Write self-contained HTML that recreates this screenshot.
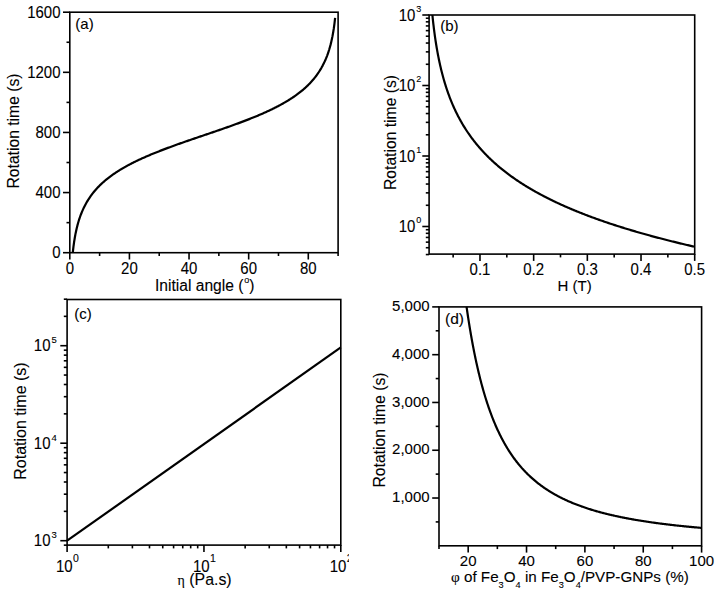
<!DOCTYPE html>
<html><head><meta charset="utf-8"><style>
html,body{margin:0;padding:0;background:#fff;}
body{width:720px;height:592px;overflow:hidden;}
svg{display:block;font-family:"Liberation Sans",sans-serif;}
svg text{fill:#000;stroke:#000;stroke-width:0.1px;}
svg line,svg rect.ax,svg polyline{stroke:#000;}
</style></head><body>
<svg width="720" height="592" viewBox="0 0 720 592">
<rect x="0" y="0" width="720" height="592" fill="#fff" stroke="none"/>
<rect class="ax" x="69.80" y="12.20" width="268.30" height="240.50" fill="none" stroke-width="1.6"/>
<line x1="69.80" y1="252.70" x2="69.80" y2="259.50" stroke-width="1.6"/>
<line x1="99.61" y1="252.70" x2="99.61" y2="256.00" stroke-width="1.6"/>
<line x1="129.42" y1="252.70" x2="129.42" y2="259.50" stroke-width="1.6"/>
<line x1="159.23" y1="252.70" x2="159.23" y2="256.00" stroke-width="1.6"/>
<line x1="189.04" y1="252.70" x2="189.04" y2="259.50" stroke-width="1.6"/>
<line x1="218.86" y1="252.70" x2="218.86" y2="256.00" stroke-width="1.6"/>
<line x1="248.67" y1="252.70" x2="248.67" y2="259.50" stroke-width="1.6"/>
<line x1="278.48" y1="252.70" x2="278.48" y2="256.00" stroke-width="1.6"/>
<line x1="308.29" y1="252.70" x2="308.29" y2="259.50" stroke-width="1.6"/>
<line x1="338.10" y1="252.70" x2="338.10" y2="256.00" stroke-width="1.6"/>
<line x1="69.80" y1="252.70" x2="63.00" y2="252.70" stroke-width="1.6"/>
<line x1="69.80" y1="222.64" x2="66.50" y2="222.64" stroke-width="1.6"/>
<line x1="69.80" y1="192.57" x2="63.00" y2="192.57" stroke-width="1.6"/>
<line x1="69.80" y1="162.51" x2="66.50" y2="162.51" stroke-width="1.6"/>
<line x1="69.80" y1="132.45" x2="63.00" y2="132.45" stroke-width="1.6"/>
<line x1="69.80" y1="102.39" x2="66.50" y2="102.39" stroke-width="1.6"/>
<line x1="69.80" y1="72.32" x2="63.00" y2="72.32" stroke-width="1.6"/>
<line x1="69.80" y1="42.26" x2="66.50" y2="42.26" stroke-width="1.6"/>
<line x1="69.80" y1="12.20" x2="63.00" y2="12.20" stroke-width="1.6"/>
<text transform="translate(69.80,273.80) scale(1.0,1.12)" font-size="15" text-anchor="middle" >0</text>
<text transform="translate(129.42,273.80) scale(1.0,1.12)" font-size="15" text-anchor="middle" >20</text>
<text transform="translate(189.04,273.80) scale(1.0,1.12)" font-size="15" text-anchor="middle" >40</text>
<text transform="translate(248.67,273.80) scale(1.0,1.12)" font-size="15" text-anchor="middle" >60</text>
<text transform="translate(308.29,273.80) scale(1.0,1.12)" font-size="15" text-anchor="middle" >80</text>
<text transform="translate(60.50,258.30) scale(1.0,1.12)" font-size="15" text-anchor="end" >0</text>
<text transform="translate(60.50,198.17) scale(1.0,1.12)" font-size="15" text-anchor="end" >400</text>
<text transform="translate(60.50,138.05) scale(1.0,1.12)" font-size="15" text-anchor="end" >800</text>
<text transform="translate(60.50,77.92) scale(1.0,1.12)" font-size="15" text-anchor="end" >1200</text>
<text transform="translate(60.50,17.80) scale(1.0,1.12)" font-size="15" text-anchor="end" >1600</text>
<polyline points="72.78,252.70 73.44,246.93 74.09,242.12 74.75,237.99 75.40,234.38 76.06,231.17 76.72,228.27 77.37,225.64 78.03,223.23 78.68,221.00 79.34,218.93 80.00,217.00 80.65,215.18 81.31,213.48 81.96,211.86 82.62,210.33 83.27,208.88 83.93,207.50 84.59,206.17 85.24,204.91 85.90,203.69 86.55,202.53 87.21,201.41 87.87,200.33 88.52,199.28 89.18,198.28 89.83,197.30 90.49,196.36 91.14,195.44 91.80,194.56 92.46,193.69 93.11,192.86 93.77,192.04 94.42,191.25 95.08,190.47 95.74,189.72 96.39,188.98 97.05,188.27 97.70,187.56 98.36,186.88 99.01,186.21 99.67,185.55 100.33,184.91 100.98,184.27 101.64,183.66 102.29,183.05 102.95,182.46 103.61,181.87 104.26,181.30 104.92,180.74 105.57,180.19 106.23,179.64 106.89,179.11 107.54,178.58 108.20,178.07 108.85,177.56 109.51,177.06 110.16,176.57 110.82,176.08 111.48,175.60 112.13,175.13 112.79,174.66 113.44,174.21 114.10,173.75 114.76,173.31 115.41,172.87 116.07,172.43 116.72,172.00 117.38,171.58 118.03,171.16 118.69,170.75 119.35,170.34 120.00,169.93 120.66,169.53 121.31,169.14 121.97,168.75 122.63,168.36 123.28,167.98 123.94,167.60 124.59,167.23 125.25,166.86 125.90,166.49 126.56,166.13 127.22,165.77 127.87,165.41 128.53,165.06 129.18,164.71 129.84,164.36 130.50,164.02 131.15,163.68 131.81,163.34 132.46,163.01 133.12,162.68 133.77,162.35 134.43,162.02 135.09,161.70 135.74,161.38 136.40,161.06 137.05,160.75 137.71,160.43 138.37,160.12 139.02,159.81 139.68,159.51 140.33,159.20 140.99,158.90 141.64,158.60 142.30,158.30 142.96,158.01 143.61,157.71 144.27,157.42 144.92,157.13 145.58,156.84 146.24,156.56 146.89,156.27 147.55,155.99 148.20,155.71 148.86,155.43 149.51,155.15 150.17,154.87 150.83,154.60 151.48,154.33 152.14,154.05 152.79,153.78 153.45,153.51 154.11,153.25 154.76,152.98 155.42,152.72 156.07,152.45 156.73,152.19 157.39,151.93 158.04,151.67 158.70,151.41 159.35,151.15 160.01,150.89 160.66,150.64 161.32,150.39 161.98,150.13 162.63,149.88 163.29,149.63 163.94,149.38 164.60,149.13 165.26,148.88 165.91,148.63 166.57,148.39 167.22,148.14 167.88,147.90 168.53,147.65 169.19,147.41 169.85,147.17 170.50,146.93 171.16,146.69 171.81,146.45 172.47,146.21 173.13,145.97 173.78,145.73 174.44,145.49 175.09,145.26 175.75,145.02 176.40,144.79 177.06,144.55 177.72,144.32 178.37,144.08 179.03,143.85 179.68,143.62 180.34,143.39 181.00,143.16 181.65,142.92 182.31,142.69 182.96,142.46 183.62,142.24 184.27,142.01 184.93,141.78 185.59,141.55 186.24,141.32 186.90,141.09 187.55,140.87 188.21,140.64 188.87,140.41 189.52,140.19 190.18,139.96 190.83,139.74 191.49,139.51 192.14,139.29 192.80,139.06 193.46,138.84 194.11,138.61 194.77,138.39 195.42,138.16 196.08,137.94 196.74,137.72 197.39,137.49 198.05,137.27 198.70,137.05 199.36,136.82 200.01,136.60 200.67,136.38 201.33,136.15 201.98,135.93 202.64,135.71 203.29,135.49 203.95,135.26 204.61,135.04 205.26,134.82 205.92,134.59 206.57,134.37 207.23,134.15 207.89,133.93 208.54,133.70 209.20,133.48 209.85,133.26 210.51,133.03 211.16,132.81 211.82,132.59 212.48,132.36 213.13,132.14 213.79,131.91 214.44,131.69 215.10,131.46 215.76,131.24 216.41,131.01 217.07,130.79 217.72,130.56 218.38,130.34 219.03,130.11 219.69,129.89 220.35,129.66 221.00,129.43 221.66,129.20 222.31,128.98 222.97,128.75 223.63,128.52 224.28,128.29 224.94,128.06 225.59,127.83 226.25,127.60 226.90,127.37 227.56,127.14 228.22,126.91 228.87,126.67 229.53,126.44 230.18,126.21 230.84,125.97 231.50,125.74 232.15,125.50 232.81,125.27 233.46,125.03 234.12,124.79 234.77,124.56 235.43,124.32 236.09,124.08 236.74,123.84 237.40,123.60 238.05,123.36 238.71,123.11 239.37,122.87 240.02,122.63 240.68,122.38 241.33,122.14 241.99,121.89 242.64,121.64 243.30,121.40 243.96,121.15 244.61,120.90 245.27,120.65 245.92,120.39 246.58,120.14 247.24,119.89 247.89,119.63 248.55,119.37 249.20,119.12 249.86,118.86 250.51,118.60 251.17,118.34 251.83,118.07 252.48,117.81 253.14,117.55 253.79,117.28 254.45,117.01 255.11,116.74 255.76,116.47 256.42,116.20 257.07,115.93 257.73,115.65 258.39,115.38 259.04,115.10 259.70,114.82 260.35,114.54 261.01,114.25 261.66,113.97 262.32,113.68 262.98,113.39 263.63,113.10 264.29,112.81 264.94,112.52 265.60,112.22 266.26,111.92 266.91,111.62 267.57,111.32 268.22,111.02 268.88,110.71 269.53,110.40 270.19,110.09 270.85,109.78 271.50,109.46 272.16,109.15 272.81,108.83 273.47,108.50 274.13,108.18 274.78,107.85 275.44,107.52 276.09,107.18 276.75,106.85 277.40,106.51 278.06,106.16 278.72,105.82 279.37,105.47 280.03,105.11 280.68,104.76 281.34,104.40 282.00,104.04 282.65,103.67 283.31,103.30 283.96,102.92 284.62,102.55 285.27,102.16 285.93,101.78 286.59,101.39 287.24,100.99 287.90,100.59 288.55,100.19 289.21,99.78 289.87,99.37 290.52,98.95 291.18,98.52 291.83,98.09 292.49,97.66 293.14,97.22 293.80,96.77 294.46,96.32 295.11,95.86 295.77,95.40 296.42,94.92 297.08,94.45 297.74,93.96 298.39,93.47 299.05,92.97 299.70,92.46 300.36,91.94 301.01,91.42 301.67,90.88 302.33,90.34 302.98,89.79 303.64,89.22 304.29,88.65 304.95,88.07 305.61,87.47 306.26,86.87 306.92,86.25 307.57,85.62 308.23,84.98 308.89,84.32 309.54,83.65 310.20,82.96 310.85,82.26 311.51,81.54 312.16,80.81 312.82,80.05 313.48,79.28 314.13,78.48 314.79,77.67 315.44,76.83 316.10,75.97 316.76,75.08 317.41,74.17 318.07,73.22 318.72,72.25 319.38,71.24 320.03,70.20 320.69,69.12 321.35,68.00 322.00,66.83 322.66,65.62 323.31,64.35 323.97,63.03 324.63,61.64 325.28,60.19 325.94,58.66 326.59,57.05 327.25,55.34 327.90,53.53 328.56,51.60 329.22,49.53 329.87,47.30 330.53,44.88 331.18,42.25 331.84,39.36 332.50,36.15 333.15,32.53 333.81,28.41 334.46,23.60 335.12,17.83" fill="none" stroke-width="2.2" stroke-linejoin="round"/>
<text transform="translate(75.30,29.00) scale(1.0,1.0)" font-size="15" text-anchor="start" >(a)</text>
<text transform="translate(155.00,291.20) scale(1.0,1.0)" font-size="15.6" text-anchor="start" >Initial angle (<tspan font-size="9" dy="-8.5" dx="0.8">o</tspan><tspan dy="8.5">)</tspan></text>
<text transform="translate(18.5,131) rotate(-90)" font-size="15.7" text-anchor="middle">Rotation time (s)</text>
<rect class="ax" x="429.10" y="15.00" width="265.60" height="239.10" fill="none" stroke-width="1.6"/>
<line x1="453.14" y1="254.10" x2="453.14" y2="257.40" stroke-width="1.6"/>
<line x1="479.98" y1="254.10" x2="479.98" y2="260.90" stroke-width="1.6"/>
<line x1="506.82" y1="254.10" x2="506.82" y2="257.40" stroke-width="1.6"/>
<line x1="533.66" y1="254.10" x2="533.66" y2="260.90" stroke-width="1.6"/>
<line x1="560.50" y1="254.10" x2="560.50" y2="257.40" stroke-width="1.6"/>
<line x1="587.34" y1="254.10" x2="587.34" y2="260.90" stroke-width="1.6"/>
<line x1="614.18" y1="254.10" x2="614.18" y2="257.40" stroke-width="1.6"/>
<line x1="641.02" y1="254.10" x2="641.02" y2="260.90" stroke-width="1.6"/>
<line x1="667.86" y1="254.10" x2="667.86" y2="257.40" stroke-width="1.6"/>
<line x1="694.70" y1="254.10" x2="694.70" y2="260.90" stroke-width="1.6"/>
<line x1="429.10" y1="254.55" x2="425.80" y2="254.55" stroke-width="1.6"/>
<line x1="429.10" y1="247.72" x2="425.80" y2="247.72" stroke-width="1.6"/>
<line x1="429.10" y1="242.14" x2="425.80" y2="242.14" stroke-width="1.6"/>
<line x1="429.10" y1="237.42" x2="425.80" y2="237.42" stroke-width="1.6"/>
<line x1="429.10" y1="233.33" x2="425.80" y2="233.33" stroke-width="1.6"/>
<line x1="429.10" y1="229.73" x2="425.80" y2="229.73" stroke-width="1.6"/>
<line x1="429.10" y1="226.50" x2="422.30" y2="226.50" stroke-width="1.6"/>
<line x1="429.10" y1="205.28" x2="425.80" y2="205.28" stroke-width="1.6"/>
<line x1="429.10" y1="192.86" x2="425.80" y2="192.86" stroke-width="1.6"/>
<line x1="429.10" y1="184.05" x2="425.80" y2="184.05" stroke-width="1.6"/>
<line x1="429.10" y1="177.22" x2="425.80" y2="177.22" stroke-width="1.6"/>
<line x1="429.10" y1="171.64" x2="425.80" y2="171.64" stroke-width="1.6"/>
<line x1="429.10" y1="166.92" x2="425.80" y2="166.92" stroke-width="1.6"/>
<line x1="429.10" y1="162.83" x2="425.80" y2="162.83" stroke-width="1.6"/>
<line x1="429.10" y1="159.23" x2="425.80" y2="159.23" stroke-width="1.6"/>
<line x1="429.10" y1="156.00" x2="422.30" y2="156.00" stroke-width="1.6"/>
<line x1="429.10" y1="134.78" x2="425.80" y2="134.78" stroke-width="1.6"/>
<line x1="429.10" y1="122.36" x2="425.80" y2="122.36" stroke-width="1.6"/>
<line x1="429.10" y1="113.55" x2="425.80" y2="113.55" stroke-width="1.6"/>
<line x1="429.10" y1="106.72" x2="425.80" y2="106.72" stroke-width="1.6"/>
<line x1="429.10" y1="101.14" x2="425.80" y2="101.14" stroke-width="1.6"/>
<line x1="429.10" y1="96.42" x2="425.80" y2="96.42" stroke-width="1.6"/>
<line x1="429.10" y1="92.33" x2="425.80" y2="92.33" stroke-width="1.6"/>
<line x1="429.10" y1="88.73" x2="425.80" y2="88.73" stroke-width="1.6"/>
<line x1="429.10" y1="85.50" x2="422.30" y2="85.50" stroke-width="1.6"/>
<line x1="429.10" y1="64.28" x2="425.80" y2="64.28" stroke-width="1.6"/>
<line x1="429.10" y1="51.86" x2="425.80" y2="51.86" stroke-width="1.6"/>
<line x1="429.10" y1="43.05" x2="425.80" y2="43.05" stroke-width="1.6"/>
<line x1="429.10" y1="36.22" x2="425.80" y2="36.22" stroke-width="1.6"/>
<line x1="429.10" y1="30.64" x2="425.80" y2="30.64" stroke-width="1.6"/>
<line x1="429.10" y1="25.92" x2="425.80" y2="25.92" stroke-width="1.6"/>
<line x1="429.10" y1="21.83" x2="425.80" y2="21.83" stroke-width="1.6"/>
<line x1="429.10" y1="18.23" x2="425.80" y2="18.23" stroke-width="1.6"/>
<line x1="429.10" y1="15.00" x2="422.30" y2="15.00" stroke-width="1.6"/>
<text transform="translate(479.98,275.10) scale(1.0,1.12)" font-size="15" text-anchor="middle" >0.1</text>
<text transform="translate(533.66,275.10) scale(1.0,1.12)" font-size="15" text-anchor="middle" >0.2</text>
<text transform="translate(587.34,275.10) scale(1.0,1.12)" font-size="15" text-anchor="middle" >0.3</text>
<text transform="translate(641.02,275.10) scale(1.0,1.12)" font-size="15" text-anchor="middle" >0.4</text>
<text transform="translate(694.70,275.10) scale(1.0,1.12)" font-size="15" text-anchor="middle" >0.5</text>
<text transform="translate(415.30,232.10) scale(1.0,1.12)" font-size="15" text-anchor="end" >10</text>
<text transform="translate(416.30,223.00) scale(1.0,1.0)" font-size="9" text-anchor="start" >0</text>
<text transform="translate(415.30,161.60) scale(1.0,1.12)" font-size="15" text-anchor="end" >10</text>
<text transform="translate(416.30,152.50) scale(1.0,1.0)" font-size="9" text-anchor="start" >1</text>
<text transform="translate(415.30,91.10) scale(1.0,1.12)" font-size="15" text-anchor="end" >10</text>
<text transform="translate(416.30,82.00) scale(1.0,1.0)" font-size="9" text-anchor="start" >2</text>
<text transform="translate(415.30,20.60) scale(1.0,1.12)" font-size="15" text-anchor="end" >10</text>
<text transform="translate(416.30,11.50) scale(1.0,1.0)" font-size="9" text-anchor="start" >3</text>
<polyline points="432.40,15.00 432.43,15.33 432.49,15.92 432.57,16.69 432.66,17.58 432.76,18.58 432.88,19.66 433.00,20.81 433.14,22.03 433.28,23.30 433.43,24.62 433.59,25.97 433.76,27.35 433.93,28.77 434.11,30.20 434.30,31.65 434.50,33.11 434.70,34.59 434.90,36.07 435.11,37.56 435.33,39.05 435.55,40.54 435.78,42.03 436.01,43.52 436.25,45.00 436.50,46.48 436.74,47.96 437.00,49.43 437.25,50.88 437.52,52.33 437.78,53.78 438.06,55.21 438.33,56.63 438.61,58.04 438.90,59.44 439.19,60.83 439.48,62.20 439.78,63.57 440.08,64.92 440.38,66.26 440.69,67.59 441.00,68.91 441.32,70.22 441.64,71.51 441.97,72.79 442.29,74.06 442.63,75.32 442.96,76.56 443.30,77.80 443.64,79.02 443.99,80.23 444.34,81.42 444.69,82.61 445.05,83.79 445.41,84.95 445.77,86.10 446.14,87.24 446.51,88.38 446.88,89.49 447.26,90.60 447.64,91.70 448.02,92.79 448.40,93.87 448.79,94.94 449.18,95.99 449.58,97.04 449.98,98.08 450.38,99.11 450.78,100.13 451.19,101.14 451.60,102.14 452.01,103.13 452.43,104.11 452.85,105.09 453.27,106.05 453.69,107.01 454.12,107.96 454.55,108.90 454.98,109.83 455.42,110.75 455.86,111.67 456.30,112.57 456.74,113.47 457.19,114.36 457.64,115.25 458.09,116.13 458.55,117.00 459.00,117.86 459.46,118.71 459.93,119.56 460.39,120.40 460.86,121.24 461.33,122.07 461.80,122.89 462.28,123.70 462.76,124.51 463.24,125.31 463.72,126.11 464.21,126.90 464.69,127.68 465.18,128.46 465.68,129.23 466.17,130.00 466.67,130.76 467.17,131.51 467.67,132.26 468.18,133.00 468.69,133.74 469.20,134.47 469.71,135.20 470.22,135.92 470.74,136.64 471.26,137.35 471.78,138.06 472.31,138.76 472.83,139.45 473.36,140.14 473.89,140.83 474.42,141.51 474.96,142.19 475.50,142.86 476.04,143.53 476.58,144.20 477.12,144.86 477.67,145.51 478.22,146.16 478.77,146.81 479.32,147.45 479.88,148.09 480.44,148.72 481.00,149.35 481.56,149.98 482.12,150.60 482.69,151.22 483.26,151.83 483.83,152.44 484.40,153.05 484.97,153.65 485.55,154.25 486.13,154.84 486.71,155.44 487.29,156.02 487.88,156.61 488.47,157.19 489.05,157.77 489.65,158.34 490.24,158.91 490.83,159.48 491.43,160.04 492.03,160.61 492.63,161.16 493.24,161.72 493.84,162.27 494.45,162.82 495.06,163.36 495.67,163.90 496.28,164.44 496.90,164.98 497.51,165.51 498.13,166.04 498.75,166.57 499.38,167.09 500.00,167.62 500.63,168.13 501.26,168.65 501.89,169.16 502.52,169.67 503.16,170.18 503.79,170.69 504.43,171.19 505.07,171.69 505.71,172.19 506.36,172.68 507.00,173.17 507.65,173.66 508.30,174.15 508.95,174.63 509.61,175.12 510.26,175.60 510.92,176.07 511.58,176.55 512.24,177.02 512.90,177.49 513.57,177.96 514.23,178.42 514.90,178.89 515.57,179.35 516.24,179.81 516.92,180.27 517.59,180.72 518.27,181.17 518.95,181.62 519.63,182.07 520.31,182.52 520.99,182.96 521.68,183.40 522.37,183.84 523.06,184.28 523.75,184.72 524.44,185.15 525.14,185.58 525.83,186.01 526.53,186.44 527.23,186.87 527.93,187.29 528.63,187.71 529.34,188.13 530.05,188.55 530.75,188.97 531.46,189.38 532.18,189.80 532.89,190.21 533.61,190.62 534.32,191.03 535.04,191.43 535.76,191.84 536.48,192.24 537.21,192.64 537.93,193.04 538.66,193.44 539.39,193.83 540.12,194.23 540.85,194.62 541.58,195.01 542.32,195.40 543.06,195.79 543.79,196.17 544.53,196.56 545.28,196.94 546.02,197.32 546.77,197.70 547.51,198.08 548.26,198.46 549.01,198.83 549.76,199.21 550.51,199.58 551.27,199.95 552.03,200.32 552.78,200.69 553.54,201.05 554.30,201.42 555.07,201.78 555.83,202.14 556.60,202.51 557.36,202.87 558.13,203.22 558.90,203.58 559.68,203.94 560.45,204.29 561.23,204.64 562.00,204.99 562.78,205.34 563.56,205.69 564.34,206.04 565.13,206.39 565.91,206.73 566.70,207.08 567.48,207.42 568.27,207.76 569.06,208.10 569.86,208.44 570.65,208.78 571.45,209.11 572.24,209.45 573.04,209.78 573.84,210.12 574.64,210.45 575.44,210.78 576.25,211.11 577.05,211.44 577.86,211.76 578.67,212.09 579.48,212.41 580.29,212.74 581.11,213.06 581.92,213.38 582.74,213.70 583.56,214.02 584.37,214.34 585.20,214.66 586.02,214.97 586.84,215.29 587.67,215.60 588.49,215.91 589.32,216.23 590.15,216.54 590.98,216.85 591.81,217.16 592.65,217.46 593.48,217.77 594.32,218.08 595.16,218.38 596.00,218.68 596.84,218.99 597.68,219.29 598.53,219.59 599.37,219.89 600.22,220.19 601.07,220.49 601.92,220.78 602.77,221.08 603.62,221.37 604.47,221.67 605.33,221.96 606.19,222.25 607.04,222.55 607.90,222.84 608.77,223.13 609.63,223.42 610.49,223.70 611.36,223.99 612.22,224.28 613.09,224.56 613.96,224.85 614.83,225.13 615.70,225.41 616.58,225.69 617.45,225.97 618.33,226.25 619.21,226.53 620.09,226.81 620.97,227.09 621.85,227.37 622.73,227.64 623.62,227.92 624.50,228.19 625.39,228.47 626.28,228.74 627.17,229.01 628.06,229.28 628.95,229.55 629.85,229.82 630.74,230.09 631.64,230.36 632.54,230.63 633.44,230.89 634.34,231.16 635.24,231.42 636.14,231.69 637.05,231.95 637.95,232.21 638.86,232.48 639.77,232.74 640.68,233.00 641.59,233.26 642.50,233.52 643.42,233.77 644.33,234.03 645.25,234.29 646.17,234.55 647.09,234.80 648.01,235.06 648.93,235.31 649.85,235.56 650.78,235.82 651.71,236.07 652.63,236.32 653.56,236.57 654.49,236.82 655.42,237.07 656.36,237.32 657.29,237.57 658.22,237.81 659.16,238.06 660.10,238.31 661.04,238.55 661.98,238.80 662.92,239.04 663.86,239.28 664.81,239.53 665.75,239.77 666.70,240.01 667.65,240.25 668.60,240.49 669.55,240.73 670.50,240.97 671.45,241.21 672.40,241.45 673.36,241.69 674.32,241.92 675.28,242.16 676.23,242.39 677.20,242.63 678.16,242.86 679.12,243.10 680.08,243.33 681.05,243.56 682.02,243.79 682.99,244.03 683.95,244.26 684.93,244.49 685.90,244.72 686.87,244.95 687.84,245.17 688.82,245.40 689.80,245.63 690.78,245.86 691.75,246.08 692.74,246.31 693.72,246.53 694.70,246.76" fill="none" stroke-width="2.2" stroke-linejoin="round"/>
<text transform="translate(440.20,31.40) scale(1.0,1.0)" font-size="15" text-anchor="start" >(b)</text>
<text transform="translate(557.50,290.60) scale(1.0,1.0)" font-size="15" text-anchor="start" >H (T)</text>
<text transform="translate(395.5,132.5) rotate(-90)" font-size="15.7" text-anchor="middle">Rotation time (s)</text>
<rect class="ax" x="67.10" y="299.50" width="273.70" height="245.60" fill="none" stroke-width="1.6"/>
<line x1="67.10" y1="545.10" x2="67.10" y2="551.90" stroke-width="1.6"/>
<line x1="108.30" y1="545.10" x2="108.30" y2="548.40" stroke-width="1.6"/>
<line x1="132.39" y1="545.10" x2="132.39" y2="548.40" stroke-width="1.6"/>
<line x1="149.49" y1="545.10" x2="149.49" y2="548.40" stroke-width="1.6"/>
<line x1="162.75" y1="545.10" x2="162.75" y2="548.40" stroke-width="1.6"/>
<line x1="173.59" y1="545.10" x2="173.59" y2="548.40" stroke-width="1.6"/>
<line x1="182.75" y1="545.10" x2="182.75" y2="548.40" stroke-width="1.6"/>
<line x1="190.69" y1="545.10" x2="190.69" y2="548.40" stroke-width="1.6"/>
<line x1="197.69" y1="545.10" x2="197.69" y2="548.40" stroke-width="1.6"/>
<line x1="203.95" y1="545.10" x2="203.95" y2="551.90" stroke-width="1.6"/>
<line x1="245.15" y1="545.10" x2="245.15" y2="548.40" stroke-width="1.6"/>
<line x1="269.24" y1="545.10" x2="269.24" y2="548.40" stroke-width="1.6"/>
<line x1="286.34" y1="545.10" x2="286.34" y2="548.40" stroke-width="1.6"/>
<line x1="299.60" y1="545.10" x2="299.60" y2="548.40" stroke-width="1.6"/>
<line x1="310.44" y1="545.10" x2="310.44" y2="548.40" stroke-width="1.6"/>
<line x1="319.60" y1="545.10" x2="319.60" y2="548.40" stroke-width="1.6"/>
<line x1="327.54" y1="545.10" x2="327.54" y2="548.40" stroke-width="1.6"/>
<line x1="334.54" y1="545.10" x2="334.54" y2="548.40" stroke-width="1.6"/>
<line x1="340.80" y1="545.10" x2="340.80" y2="551.90" stroke-width="1.6"/>
<line x1="67.10" y1="545.16" x2="63.80" y2="545.16" stroke-width="1.6"/>
<line x1="67.10" y1="540.70" x2="60.30" y2="540.70" stroke-width="1.6"/>
<line x1="67.10" y1="511.35" x2="63.80" y2="511.35" stroke-width="1.6"/>
<line x1="67.10" y1="494.18" x2="63.80" y2="494.18" stroke-width="1.6"/>
<line x1="67.10" y1="482.00" x2="63.80" y2="482.00" stroke-width="1.6"/>
<line x1="67.10" y1="472.55" x2="63.80" y2="472.55" stroke-width="1.6"/>
<line x1="67.10" y1="464.83" x2="63.80" y2="464.83" stroke-width="1.6"/>
<line x1="67.10" y1="458.30" x2="63.80" y2="458.30" stroke-width="1.6"/>
<line x1="67.10" y1="452.65" x2="63.80" y2="452.65" stroke-width="1.6"/>
<line x1="67.10" y1="447.66" x2="63.80" y2="447.66" stroke-width="1.6"/>
<line x1="67.10" y1="443.20" x2="60.30" y2="443.20" stroke-width="1.6"/>
<line x1="67.10" y1="413.85" x2="63.80" y2="413.85" stroke-width="1.6"/>
<line x1="67.10" y1="396.68" x2="63.80" y2="396.68" stroke-width="1.6"/>
<line x1="67.10" y1="384.50" x2="63.80" y2="384.50" stroke-width="1.6"/>
<line x1="67.10" y1="375.05" x2="63.80" y2="375.05" stroke-width="1.6"/>
<line x1="67.10" y1="367.33" x2="63.80" y2="367.33" stroke-width="1.6"/>
<line x1="67.10" y1="360.80" x2="63.80" y2="360.80" stroke-width="1.6"/>
<line x1="67.10" y1="355.15" x2="63.80" y2="355.15" stroke-width="1.6"/>
<line x1="67.10" y1="350.16" x2="63.80" y2="350.16" stroke-width="1.6"/>
<line x1="67.10" y1="345.70" x2="60.30" y2="345.70" stroke-width="1.6"/>
<line x1="67.10" y1="316.35" x2="63.80" y2="316.35" stroke-width="1.6"/>
<line x1="67.10" y1="299.18" x2="63.80" y2="299.18" stroke-width="1.6"/>
<text transform="translate(50.50,546.30) scale(1.0,1.12)" font-size="15" text-anchor="end" >10</text>
<text transform="translate(51.50,538.30) scale(1.0,1.0)" font-size="9.5" text-anchor="start" >3</text>
<text transform="translate(50.50,448.80) scale(1.0,1.12)" font-size="15" text-anchor="end" >10</text>
<text transform="translate(51.50,440.80) scale(1.0,1.0)" font-size="9.5" text-anchor="start" >4</text>
<text transform="translate(50.50,351.30) scale(1.0,1.12)" font-size="15" text-anchor="end" >10</text>
<text transform="translate(51.50,343.30) scale(1.0,1.0)" font-size="9.5" text-anchor="start" >5</text>
<clipPath id="clc"><rect x="0" y="540" width="349" height="52"/></clipPath><g clip-path="url(#clc)">
<text transform="translate(72.70,572.20) scale(1.0,1.05)" font-size="15" text-anchor="end" >10</text>
<text transform="translate(73.10,562.40) scale(1.0,1.0)" font-size="10.5" text-anchor="start" >0</text>
<text transform="translate(209.55,572.20) scale(1.0,1.05)" font-size="15" text-anchor="end" >10</text>
<text transform="translate(209.95,562.40) scale(1.0,1.0)" font-size="10.5" text-anchor="start" >1</text>
<text transform="translate(346.40,572.20) scale(1.0,1.05)" font-size="15" text-anchor="end" >10</text>
<text transform="translate(346.80,562.40) scale(1.0,1.0)" font-size="10.5" text-anchor="start" >2</text>
</g>
<polyline points="67.10,540.70 340.80,347.40" fill="none" stroke-width="2.2" stroke-linejoin="round"/>
<text transform="translate(74.30,319.00) scale(1.0,1.0)" font-size="15" text-anchor="start" >(c)</text>
<text transform="translate(177.50,585.00) scale(1.0,1.0)" font-size="15.9" text-anchor="start" ><tspan font-family="Liberation Serif" font-size="14">η</tspan> (Pa.s)</text>
<text transform="translate(26.3,421) rotate(-90)" font-size="16" text-anchor="middle">Rotation time (s)</text>
<rect class="ax" x="439.00" y="306.90" width="262.60" height="238.90" fill="none" stroke-width="1.6"/>
<line x1="439.00" y1="545.80" x2="439.00" y2="549.10" stroke-width="1.6"/>
<line x1="468.18" y1="545.80" x2="468.18" y2="552.60" stroke-width="1.6"/>
<line x1="497.36" y1="545.80" x2="497.36" y2="549.10" stroke-width="1.6"/>
<line x1="526.53" y1="545.80" x2="526.53" y2="552.60" stroke-width="1.6"/>
<line x1="555.71" y1="545.80" x2="555.71" y2="549.10" stroke-width="1.6"/>
<line x1="584.89" y1="545.80" x2="584.89" y2="552.60" stroke-width="1.6"/>
<line x1="614.07" y1="545.80" x2="614.07" y2="549.10" stroke-width="1.6"/>
<line x1="643.24" y1="545.80" x2="643.24" y2="552.60" stroke-width="1.6"/>
<line x1="672.42" y1="545.80" x2="672.42" y2="549.10" stroke-width="1.6"/>
<line x1="701.60" y1="545.80" x2="701.60" y2="552.60" stroke-width="1.6"/>
<line x1="439.00" y1="521.91" x2="435.70" y2="521.91" stroke-width="1.6"/>
<line x1="439.00" y1="498.02" x2="432.20" y2="498.02" stroke-width="1.6"/>
<line x1="439.00" y1="474.13" x2="435.70" y2="474.13" stroke-width="1.6"/>
<line x1="439.00" y1="450.24" x2="432.20" y2="450.24" stroke-width="1.6"/>
<line x1="439.00" y1="426.35" x2="435.70" y2="426.35" stroke-width="1.6"/>
<line x1="439.00" y1="402.46" x2="432.20" y2="402.46" stroke-width="1.6"/>
<line x1="439.00" y1="378.57" x2="435.70" y2="378.57" stroke-width="1.6"/>
<line x1="439.00" y1="354.68" x2="432.20" y2="354.68" stroke-width="1.6"/>
<line x1="439.00" y1="330.79" x2="435.70" y2="330.79" stroke-width="1.6"/>
<line x1="439.00" y1="306.90" x2="432.20" y2="306.90" stroke-width="1.6"/>
<text transform="translate(468.18,566.20) scale(1.0,1.0)" font-size="15" text-anchor="middle" >20</text>
<text transform="translate(526.53,566.20) scale(1.0,1.0)" font-size="15" text-anchor="middle" >40</text>
<text transform="translate(584.89,566.20) scale(1.0,1.0)" font-size="15" text-anchor="middle" >60</text>
<text transform="translate(643.24,566.20) scale(1.0,1.0)" font-size="15" text-anchor="middle" >80</text>
<text transform="translate(701.60,566.20) scale(1.0,1.0)" font-size="15" text-anchor="middle" >100</text>
<text transform="translate(429.60,502.22) scale(1.0,1.0)" font-size="15" text-anchor="end" >1,000</text>
<text transform="translate(429.60,454.44) scale(1.0,1.0)" font-size="15" text-anchor="end" >2,000</text>
<text transform="translate(429.60,406.66) scale(1.0,1.0)" font-size="15" text-anchor="end" >3,000</text>
<text transform="translate(429.60,358.88) scale(1.0,1.0)" font-size="15" text-anchor="end" >4,000</text>
<text transform="translate(429.60,311.10) scale(1.0,1.0)" font-size="15" text-anchor="end" >5,000</text>
<polyline points="466.57,306.90 466.60,307.11 466.66,307.48 466.73,307.97 466.81,308.54 466.90,309.19 467.01,309.90 467.12,310.67 467.24,311.50 467.37,312.37 467.50,313.28 467.65,314.24 467.79,315.23 467.95,316.26 468.11,317.33 468.28,318.42 468.45,319.54 468.63,320.69 468.82,321.86 469.01,323.05 469.20,324.27 469.40,325.50 469.60,326.75 469.81,328.02 470.03,329.31 470.25,330.61 470.47,331.92 470.70,333.25 470.93,334.59 471.16,335.93 471.40,337.29 471.64,338.66 471.89,340.03 472.14,341.41 472.40,342.79 472.66,344.18 472.92,345.58 473.19,346.97 473.46,348.38 473.73,349.78 474.01,351.18 474.29,352.59 474.57,354.00 474.86,355.40 475.15,356.81 475.44,358.22 475.74,359.62 476.04,361.02 476.34,362.42 476.65,363.82 476.96,365.21 477.27,366.60 477.59,367.99 477.91,369.37 478.23,370.75 478.56,372.12 478.88,373.49 479.22,374.86 479.55,376.21 479.89,377.56 480.23,378.91 480.57,380.25 480.92,381.58 481.26,382.91 481.62,384.23 481.97,385.54 482.33,386.84 482.69,388.14 483.05,389.43 483.41,390.71 483.78,391.98 484.15,393.25 484.52,394.51 484.90,395.76 485.27,397.00 485.66,398.23 486.04,399.46 486.42,400.67 486.81,401.88 487.20,403.08 487.59,404.27 487.99,405.45 488.39,406.62 488.79,407.79 489.19,408.94 489.60,410.09 490.00,411.23 490.41,412.35 490.83,413.47 491.24,414.58 491.66,415.69 492.08,416.78 492.50,417.86 492.92,418.94 493.35,420.00 493.78,421.06 494.21,422.11 494.64,423.14 495.07,424.17 495.51,425.19 495.95,426.21 496.39,427.21 496.84,428.20 497.28,429.19 497.73,430.17 498.18,431.13 498.64,432.09 499.09,433.04 499.55,433.99 500.01,434.92 500.47,435.85 500.93,436.76 501.40,437.67 501.86,438.57 502.33,439.46 502.80,440.35 503.28,441.22 503.75,442.09 504.23,442.95 504.71,443.80 505.19,444.64 505.68,445.48 506.16,446.30 506.65,447.12 507.14,447.94 507.63,448.74 508.12,449.54 508.62,450.32 509.12,451.11 509.62,451.88 510.12,452.65 510.62,453.40 511.13,454.16 511.63,454.90 512.14,455.64 512.66,456.37 513.17,457.09 513.68,457.81 514.20,458.52 514.72,459.22 515.24,459.91 515.76,460.60 516.29,461.29 516.81,461.96 517.34,462.63 517.87,463.29 518.40,463.95 518.93,464.60 519.47,465.24 520.01,465.88 520.54,466.51 521.09,467.14 521.63,467.75 522.17,468.37 522.72,468.97 523.27,469.57 523.82,470.17 524.37,470.76 524.92,471.34 525.47,471.92 526.03,472.49 526.59,473.06 527.15,473.62 527.71,474.18 528.27,474.73 528.84,475.27 529.41,475.81 529.98,476.34 530.55,476.87 531.12,477.40 531.69,477.92 532.27,478.43 532.84,478.94 533.42,479.44 534.00,479.94 534.59,480.44 535.17,480.93 535.75,481.41 536.34,481.89 536.93,482.37 537.52,482.84 538.11,483.30 538.71,483.77 539.30,484.22 539.90,484.68 540.50,485.12 541.10,485.57 541.70,486.01 542.30,486.44 542.91,486.88 543.51,487.30 544.12,487.73 544.73,488.15 545.34,488.56 545.96,488.97 546.57,489.38 547.19,489.79 547.81,490.19 548.42,490.58 549.05,490.97 549.67,491.36 550.29,491.75 550.92,492.13 551.54,492.51 552.17,492.88 552.80,493.25 553.44,493.62 554.07,493.98 554.70,494.34 555.34,494.70 555.98,495.05 556.62,495.40 557.26,495.75 557.90,496.10 558.54,496.44 559.19,496.77 559.84,497.11 560.48,497.44 561.13,497.77 561.79,498.09 562.44,498.42 563.09,498.73 563.75,499.05 564.41,499.36 565.07,499.67 565.73,499.98 566.39,500.29 567.05,500.59 567.71,500.89 568.38,501.19 569.05,501.48 569.72,501.77 570.39,502.06 571.06,502.35 571.73,502.63 572.41,502.91 573.08,503.19 573.76,503.46 574.44,503.74 575.12,504.01 575.80,504.28 576.49,504.54 577.17,504.81 577.86,505.07 578.55,505.33 579.24,505.58 579.93,505.84 580.62,506.09 581.31,506.34 582.01,506.59 582.70,506.83 583.40,507.08 584.10,507.32 584.80,507.56 585.50,507.79 586.20,508.03 586.91,508.26 587.61,508.49 588.32,508.72 589.03,508.95 589.74,509.17 590.45,509.40 591.16,509.62 591.88,509.84 592.59,510.05 593.31,510.27 594.03,510.48 594.75,510.69 595.47,510.90 596.19,511.11 596.91,511.32 597.64,511.52 598.36,511.73 599.09,511.93 599.82,512.13 600.55,512.32 601.28,512.52 602.01,512.72 602.75,512.91 603.48,513.10 604.22,513.29 604.96,513.48 605.70,513.66 606.44,513.85 607.18,514.03 607.92,514.21 608.67,514.39 609.41,514.57 610.16,514.75 610.91,514.92 611.66,515.10 612.41,515.27 613.16,515.44 613.92,515.61 614.67,515.78 615.43,515.95 616.18,516.12 616.94,516.28 617.70,516.44 618.47,516.60 619.23,516.77 619.99,516.92 620.76,517.08 621.52,517.24 622.29,517.39 623.06,517.55 623.83,517.70 624.60,517.85 625.37,518.00 626.15,518.15 626.92,518.30 627.70,518.45 628.48,518.59 629.26,518.74 630.04,518.88 630.82,519.02 631.60,519.17 632.39,519.31 633.17,519.45 633.96,519.58 634.74,519.72 635.53,519.86 636.32,519.99 637.12,520.12 637.91,520.26 638.70,520.39 639.50,520.52 640.29,520.65 641.09,520.78 641.89,520.90 642.69,521.03 643.49,521.16 644.29,521.28 645.10,521.40 645.90,521.53 646.71,521.65 647.51,521.77 648.32,521.89 649.13,522.01 649.94,522.13 650.75,522.24 651.57,522.36 652.38,522.48 653.20,522.59 654.01,522.70 654.83,522.82 655.65,522.93 656.47,523.04 657.29,523.15 658.12,523.26 658.94,523.37 659.76,523.48 660.59,523.58 661.42,523.69 662.25,523.80 663.08,523.90 663.91,524.00 664.74,524.11 665.57,524.21 666.41,524.31 667.24,524.41 668.08,524.51 668.92,524.61 669.76,524.71 670.60,524.81 671.44,524.91 672.28,525.00 673.12,525.10 673.97,525.19 674.81,525.29 675.66,525.38 676.51,525.47 677.36,525.57 678.21,525.66 679.06,525.75 679.91,525.84 680.77,525.93 681.62,526.02 682.48,526.11 683.34,526.20 684.20,526.28 685.05,526.37 685.92,526.46 686.78,526.54 687.64,526.63 688.50,526.71 689.37,526.79 690.24,526.88 691.10,526.96 691.97,527.04 692.84,527.12 693.71,527.20 694.58,527.28 695.46,527.36 696.33,527.44 697.21,527.52 698.08,527.60 698.96,527.68 699.84,527.75 700.72,527.83 701.60,527.91" fill="none" stroke-width="2.2" stroke-linejoin="round"/>
<text transform="translate(445.00,324.00) scale(1.0,1.0)" font-size="15.5" text-anchor="start" >(d)</text>
<text transform="translate(451.00,582.10) scale(1.0,1.0)" font-size="15.2" text-anchor="start" ><tspan font-family="Liberation Serif">φ</tspan> of Fe<tspan font-size="9.2" dy="6">3</tspan><tspan dy="-6">O</tspan><tspan font-size="9.2" dy="6">4</tspan><tspan dy="-6"> in Fe</tspan><tspan font-size="9.2" dy="6">3</tspan><tspan dy="-6">O</tspan><tspan font-size="9.2" dy="6">4</tspan><tspan dy="-6">/PVP-GNPs (%)</tspan></text>
<text transform="translate(384.6,430) rotate(-90)" font-size="15.7" text-anchor="middle">Rotation time (s)</text>
</svg>
</body></html>
